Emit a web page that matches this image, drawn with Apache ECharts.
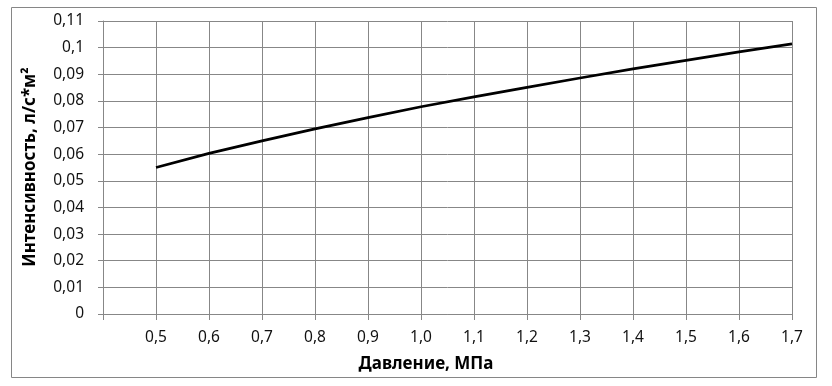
<!DOCTYPE html>
<html>
<head>
<meta charset="utf-8">
<script src="https://cdn.jsdelivr.net/npm/echarts@6/dist/echarts.min.js"></script>
<style>
html,body{margin:0;padding:0;background:#fff;}
#chart{width:832px;height:386px;}
</style>
</head>
<body>
<div id="chart"></div>
<script>
// Data
var pressure = [0.5, 0.6, 0.7, 0.8, 0.9, 1.0, 1.1, 1.2, 1.3, 1.4, 1.5, 1.6, 1.7];
var intensity = [0.055, 0.0603, 0.065, 0.0695, 0.0737, 0.0778, 0.0815, 0.0851, 0.0886, 0.092, 0.0952, 0.0984, 0.1014];
var xTitle = 'Давление, МПа';
var yTitle = 'Интенсивность, л/с*м²';

var points = pressure.map(function (p, i) { return [p, intensity[i]]; });

var chart = echarts.init(document.getElementById('chart'), null, {renderer: 'canvas'});
var gridColor = '#878787';
var font = 'Noto Sans';

chart.setOption({
  animation: false,
  backgroundColor: '#fff',
  grid: {left: 103, right: 40, top: 21, bottom: 72, containLabel: false},
  xAxis: {
    type: 'value', min: 0.4, max: 1.7, interval: 0.1,
    axisLine: {show: true, lineStyle: {color: gridColor, width: 1}},
    axisTick: {show: true, length: 6, lineStyle: {color: gridColor}},
    splitLine: {show: true, lineStyle: {color: gridColor, width: 1}},
    axisLabel: {
      margin: 16, color: '#111', fontFamily: font, fontSize: 15.5,
      showMinLabel: true, showMaxLabel: true,
      formatter: function (v) {
        if (Math.abs(v - 0.4) < 1e-6) return '';
        return v.toFixed(1).replace('.', ',');
      }
    }
  },
  yAxis: {
    type: 'value', min: 0, max: 0.11, interval: 0.01,
    axisLine: {show: true, lineStyle: {color: gridColor, width: 1}},
    axisTick: {show: true, length: 5, lineStyle: {color: gridColor}},
    splitLine: {show: true, lineStyle: {color: gridColor, width: 1}},
    axisLabel: {
      margin: 19, color: '#111', fontFamily: font, fontSize: 15.5,
      showMinLabel: true, showMaxLabel: true,
      formatter: function (v) {
        var s = String(Math.round(v * 100) / 100);
        return s.replace('.', ',');
      }
    }
  },
  series: [{
    type: 'line', data: points, showSymbol: false, smooth: false,
    lineStyle: {color: '#000', width: 2.75}
  }],
  graphic: [
    {type: 'rect', shape: {x: 11.5, y: 7.5, width: 805, height: 370},
     style: {fill: 'none', stroke: '#868686', lineWidth: 1}, z: -1},
    {type: 'text', x: 426, y: 364,
     style: {text: xTitle, fontFamily: font, fontWeight: 'bold', fontSize: 17, fill: '#000',
             align: 'center', verticalAlign: 'middle'}},
    {type: 'text', x: 30, y: 167, rotation: Math.PI / 2,
     style: {text: yTitle, fontFamily: font, fontWeight: 'bold', fontSize: 17, fill: '#000',
             align: 'center', verticalAlign: 'middle'}}
  ]
});
</script>
</body>
</html>
